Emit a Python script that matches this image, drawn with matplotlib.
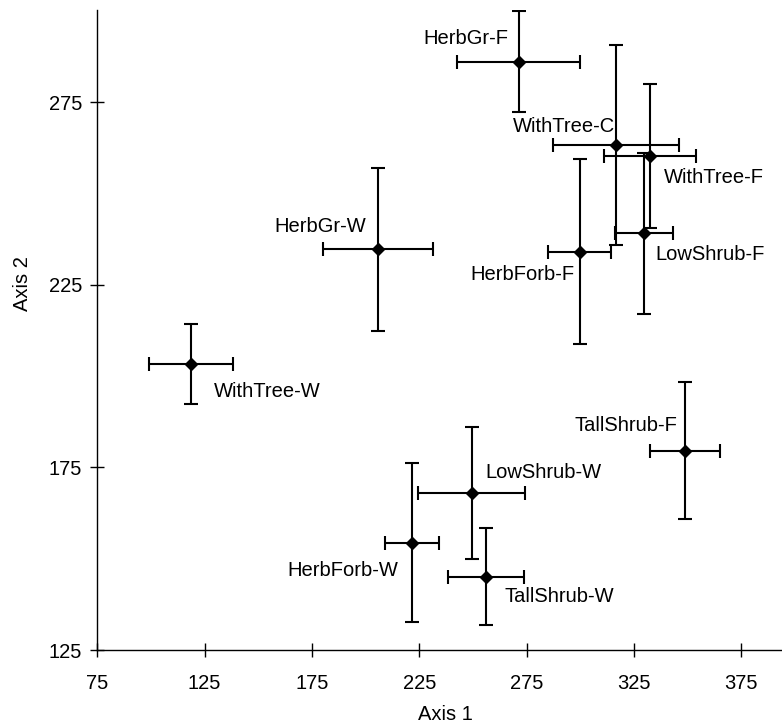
import matplotlib
matplotlib.use("Agg")
import matplotlib.pyplot as plt

plt.rcParams["font.family"] = ["Liberation Sans", "DejaVu Sans"]

# group means on the two ordination axes, with +/- errors
groups = ["HerbGr-F", "WithTree-C", "WithTree-F", "LowShrub-F", "HerbForb-F",
          "HerbGr-W", "WithTree-W", "TallShrub-F", "LowShrub-W", "HerbForb-W",
          "TallShrub-W"]
axis1 = [271.3, 316.7, 332.7, 329.6, 299.7, 205.7, 118.5, 348.6, 249.4, 221.7, 256.2]
axis2 = [286.1, 263.3, 260.4, 239.1, 234.1, 234.7, 203.3, 179.6, 167.9, 154.4, 145.1]
err1 = [28.7, 29.3, 21.4, 13.4, 14.5, 25.5, 19.5, 16.3, 24.9, 12.6, 17.6]
err2 = [13.8, 27.5, 19.7, 22.0, 25.4, 22.4, 11.0, 18.8, 18.1, 21.7, 13.3]

xticks = [75, 125, 175, 225, 275, 325, 375]
yticks = [125, 175, 225, 275]

# label placement: (dx px, dy px, ha) relative to the point, y up
LABEL_POS = {
    "HerbGr-F":    (-10, 23, "right"),
    "WithTree-C":  (-1, 19, "right"),
    "WithTree-F":  (13, -22, "left"),
    "LowShrub-F":  (12, -21, "left"),
    "HerbForb-F":  (-5, -23, "right"),
    "HerbGr-W":    (-12, 23, "right"),
    "WithTree-W":  (23, -27, "left"),
    "TallShrub-F": (-7, 25, "right"),
    "LowShrub-W":  (14, 21, "left"),
    "HerbForb-W":  (-14, -28, "right"),
    "TallShrub-W": (18, -20, "left"),
}

FS = 14.5
PX = 0.72  # points per pixel at dpi 100

fig = plt.figure(figsize=(7.82, 7.25), dpi=100)
ax = fig.add_axes([97.3 / 782, 75 / 725, 1 - 97.3 / 782, 640 / 725])

ax.errorbar(axis1, axis2, xerr=err1, yerr=err2, fmt="D", color="black",
            ms=6.5, elinewidth=1.5, capsize=5, capthick=1.5, ecolor="black")

for name, x, y in zip(groups, axis1, axis2):
    dx, dy, ha = LABEL_POS[name]
    ax.annotate(name, (x, y), xytext=(dx * PX, dy * PX),
                textcoords="offset points", ha=ha, va="center",
                fontsize=FS, color="black")

ax.set_xlim(75, 394)
ax.set_ylim(125, 300.3)
ax.set_xticks(xticks)
ax.set_yticks(yticks)
ax.tick_params(direction="inout", length=10, width=1, labelsize=FS,
               colors="black")
ax.tick_params(axis="x", pad=12)
ax.tick_params(axis="y", pad=6)

for side in ("top", "right"):
    ax.spines[side].set_visible(False)
for side in ("left", "bottom"):
    ax.spines[side].set_linewidth(1)

ax.set_xlabel("Axis 1", fontsize=FS)
ax.set_ylabel("Axis 2", fontsize=FS)
ax.xaxis.set_label_coords(0.508, -0.086)
ax.yaxis.set_label_coords(-0.0954, 0.572)

fig.savefig("out.png", dpi=100, facecolor="white")
